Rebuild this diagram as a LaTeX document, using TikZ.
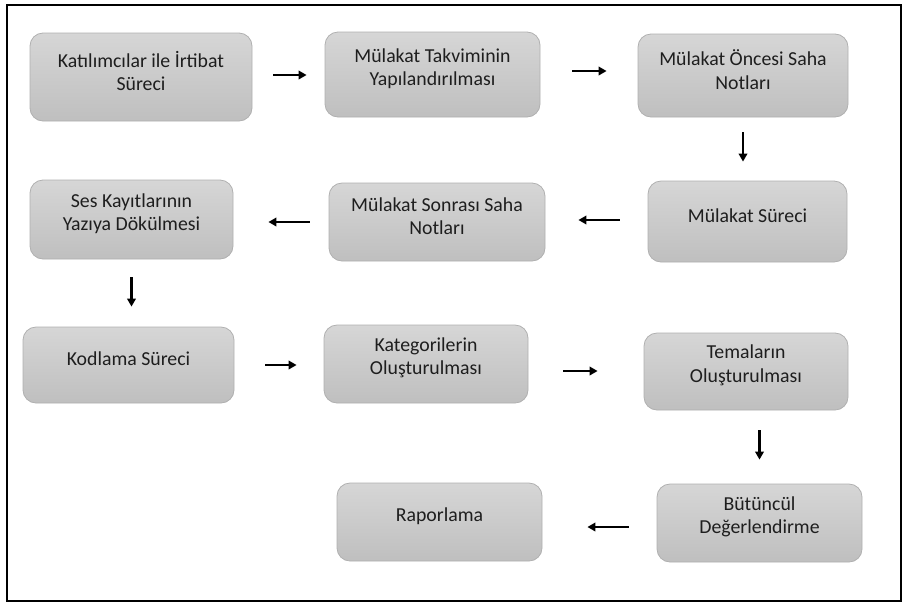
\documentclass[tikz,border=0pt]{standalone}
\usepackage{fontspec}
\setmainfont{Carlito}
\usetikzlibrary{arrows.meta,calc}
\definecolor{boxtop}{HTML}{D6D6D6}
\definecolor{boxbot}{HTML}{BFBFBF}
\definecolor{boxline}{HTML}{B0B0B0}
\definecolor{txtcol}{HTML}{1E1E1E}
\tikzset{
  box/.style={draw=boxline, line width=0.8pt, rounded corners=13pt,
    top color=boxtop, bottom color=boxbot, inner sep=0pt},
  txt/.style={text=txtcol, align=center, inner sep=0pt,
    font=\fontsize{19.8}{23.5}\selectfont},
  arr/.style={line width=2.4pt, -{Triangle[length=8pt,width=8.5pt]}},
}
\begin{document}
\begin{tikzpicture}[x=1pt,y=-1pt]
\useasboundingbox (0,0) rectangle (909,603);
\draw[line width=1.8pt] (7,5) rectangle (901,601);
% boxes
\node[box, minimum width=222pt, minimum height=88pt] (a1) at (141,77) {};
\node[box, minimum width=215pt, minimum height=85pt] (a2) at (432.5,74.5) {};
\node[box, minimum width=210pt, minimum height=83pt] (a3) at (743,75.5) {};
\node[box, minimum width=199pt, minimum height=81pt] (a4) at (747.5,221.5) {};
\node[box, minimum width=216pt, minimum height=78pt] (a5) at (437,222) {};
\node[box, minimum width=203pt, minimum height=79pt] (a6) at (131.5,219.5) {};
\node[box, minimum width=211pt, minimum height=76pt] (a7) at (128.5,365) {};
\node[box, minimum width=204pt, minimum height=78pt] (a8) at (426,364) {};
\node[box, minimum width=204pt, minimum height=77pt] (a9) at (746,371.5) {};
\node[box, minimum width=205pt, minimum height=78pt] (a10) at (759.5,523) {};
\node[box, minimum width=205pt, minimum height=78pt] (a11) at (439.5,522) {};
% texts
\node[txt] (t1) at ([yshift=6pt]a1.center) {Katılımcılar ile İrtibat\\Süreci};
\node[txt] (t2) at ([yshift=6pt]a2.center) {Mülakat Takviminin\\Yapılandırılması};
\node[txt] (t3) at ([yshift=6pt]a3.center) {Mülakat Öncesi Saha\\Notları};
\node[txt] (t4) at ([yshift=6pt]a4.center) {Mülakat Süreci};
\node[txt] (t5) at ([yshift=6pt]a5.center) {Mülakat Sonrası Saha\\Notları};
\node[txt] (t6) at ([yshift=6pt]a6.center) {Ses Kayıtlarının\\Yazıya Dökülmesi};
\node[txt] (t7) at ([yshift=6pt]a7.center) {Kodlama Süreci};
\node[txt] (t8) at ([yshift=6pt]a8.center) {Kategorilerin\\Oluşturulması};
\node[txt] (t9) at ([yshift=6pt]a9.center) {Temaların\\Oluşturulması};
\node[txt] (t10) at ([yshift=6pt]a10.center) {Bütüncül\\Değerlendirme};
\node[txt] (t11) at ([yshift=6pt]a11.center) {Raporlama};
% arrows
\draw[arr, shorten <=21pt, shorten >=18pt] ([yshift=2pt]a1.east) -- ([yshift=2pt]a1.east -| a2.west);
\draw[arr, shorten <=32pt, shorten >=31pt] ([yshift=3.5pt]a2.east) -- ([yshift=3.5pt]a2.east -| a3.west);
\draw[arr, shorten <=15pt, shorten >=19pt] (a3.south) -- (a3.south |- a4.north);
\draw[arr, shorten <=28pt, shorten >=33pt] ([yshift=1.5pt]a4.west) -- ([yshift=1.5pt]a4.west -| a5.east);
\draw[arr, shorten <=19pt, shorten >=35pt] (a5.west) -- (a5.west -| a6.east);
\draw[arr, shorten <=18pt, shorten >=20pt] (a6.south) -- (a6.south |- a7.north);
\draw[arr, shorten <=31pt, shorten >=27pt] (a7.east) -- (a7.east -| a8.west);
\draw[arr, shorten <=35pt, shorten >=46pt] ([yshift=-7pt]a8.east) -- ([yshift=-7pt]a8.east -| a9.west);
\draw[arr, shorten <=20pt, shorten >=24pt] (a9.south -| a10.north) -- (a10.north);
\draw[arr, shorten <=28pt, shorten >=45pt] ([yshift=-4pt]a10.west) -- ([yshift=-4pt]a10.west -| a11.east);
\end{tikzpicture}
\end{document}
